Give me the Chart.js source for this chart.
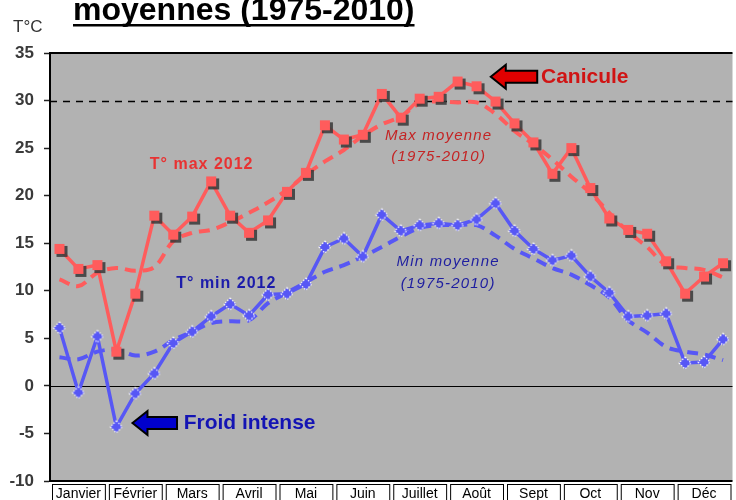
<!DOCTYPE html>
<html>
<head>
<meta charset="utf-8">
<script src="https://cdn.jsdelivr.net/npm/chart.js@4.4.0/dist/chart.umd.min.js"></script>
<style>
  html, body { margin: 0; padding: 0; width: 736px; height: 500px; overflow: hidden; background: #fff; }
  #wrap { position: relative; width: 742px; height: 515px; }
</style>
</head>
<body>
<div id="wrap"><canvas id="tempChart" width="742" height="515"></canvas></div>
<script>
// one label per month, three readings (decades) per month
const months = ["Janvier", "Février", "Mars", "Avril", "Mai", "Juin", "Juillet", "Août", "Sept", "Oct", "Nov", "Déc"];
const decades = ["1", "2", "3"];

// T° max 2012 (solid red)
const max2012 = [14.4, 12.3, 12.7, 3.6, 9.7, 17.9, 15.9, 17.8, 21.5, 17.9, 16.1, 17.4,
                 20.4, 22.4, 27.4, 25.9, 26.4, 30.7, 28.2, 30.2, 30.4, 32.0, 31.5, 29.9,
                 27.6, 25.6, 22.3, 25.0, 20.8, 17.6, 16.4, 16.0, 13.1, 9.7, 11.5, 12.9];
// Max moyenne 1975-2010 (dashed red)
const maxMoy = [11.2, 10.5, 11.9, 12.4, 12.1, 12.5, 15.2, 16.1, 16.4, 17.2, 18.2, 19.3,
                20.6, 22.2, 23.6, 24.8, 26.3, 27.5, 28.3, 29.7, 29.9, 29.8, 29.8, 28.6,
                26.8, 25.4, 23.8, 22.0, 20.3, 18.2, 16.2, 14.6, 12.7, 12.4, 12.2, 11.4];
// T° min 2012 (solid blue)
const min2012 = [6.1, -0.7, 5.2, -4.3, -0.8, 1.3, 4.5, 5.7, 7.3, 8.6, 7.4, 9.6,
                 9.7, 10.7, 14.6, 15.5, 13.6, 18.0, 16.3, 16.9, 17.1, 16.9, 17.5, 19.2,
                 16.3, 14.4, 13.2, 13.7, 11.5, 9.8, 7.3, 7.4, 7.6, 2.4, 2.5, 4.9];
// Min moyenne 1975-2010 (dashed blue)
const minMoy = [3.0, 2.8, 3.6, 3.8, 3.2, 3.6, 4.8, 5.7, 6.6, 6.8, 6.9, 8.7,
                9.8, 10.9, 12.0, 12.7, 13.6, 14.6, 15.7, 16.6, 16.9, 16.9, 16.9, 15.8,
                14.4, 13.4, 12.4, 11.7, 10.6, 9.3, 6.9, 5.6, 4.1, 3.6, 3.3, 2.7];

const yMin = -10, yMax = 35, yStep = 5;
const caniculeLevel = 30;

const RED = "#ff5c5c";
const BLUE = "#5757f5";

const labels = [];
months.forEach(m => decades.forEach(d => labels.push(m + " " + d)));

// square marker with a dark drop shadow
function squareMarker() {
  const c = document.createElement("canvas");
  c.width = c.height = 18;
  const g = c.getContext("2d");
  g.fillStyle = "rgba(55,55,55,0.85)";
  g.fillRect(6, 6, 11, 11);
  g.fillStyle = RED;
  g.fillRect(4, 4, 10, 10);
  return c;
}

// diamond marker with dotted white outline
function diamondMarker() {
  const c = document.createElement("canvas");
  c.width = c.height = 16;
  const g = c.getContext("2d");
  g.beginPath();
  g.moveTo(8, 2); g.lineTo(14, 8); g.lineTo(8, 14); g.lineTo(2, 8); g.closePath();
  g.fillStyle = BLUE;
  g.fill();
  g.setLineDash([1.5, 1.5]);
  g.lineWidth = 1.2;
  g.strokeStyle = "#fff";
  g.stroke();
  return c;
}

const sq = squareMarker();
const dm = diamondMarker();

// plot background, month boxes, reference lines
const backdrop = {
  id: "backdrop",
  beforeDraw(chart) {
    const { ctx, chartArea: a, scales: { x } } = chart;
    ctx.save();
    ctx.fillStyle = "#b2b2b2";
    ctx.fillRect(a.left, a.top, a.right - a.left, a.bottom - a.top);
    ctx.strokeStyle = "#000";
    ctx.lineWidth = 1;
    for (let m = 0; m < months.length; m++) {
      const x0 = x.getPixelForValue(m * 3 - 0.5) + 2.5;
      const x1 = x.getPixelForValue(m * 3 + 2.5) - 1.5;
      ctx.fillStyle = "#fff";
      ctx.fillRect(x0, a.bottom + 3, x1 - x0, 24);
      ctx.strokeRect(x0, a.bottom + 3.5, x1 - x0, 24);
    }
    ctx.restore();
  },
  beforeDatasetsDraw(chart) {
    const { ctx, chartArea: a, scales: { y } } = chart;
    ctx.save();
    ctx.strokeStyle = "#000";
    ctx.lineWidth = 1.2;
    const y0 = Math.round(y.getPixelForValue(0)) + 0.5;
    ctx.beginPath(); ctx.moveTo(a.left, y0); ctx.lineTo(a.right, y0); ctx.stroke();
    const y30 = Math.round(y.getPixelForValue(caniculeLevel)) + 0.5;
    ctx.setLineDash([7, 6]);
    ctx.lineWidth = 1.5;
    ctx.beginPath(); ctx.moveTo(a.left, y30); ctx.lineTo(a.right, y30); ctx.stroke();
    ctx.restore();
  },
  afterDraw(chart) {
    const { ctx, chartArea: a } = chart;
    ctx.save();
    ctx.strokeStyle = "#000";
    ctx.lineWidth = 2;
    ctx.beginPath();
    ctx.moveTo(a.left, a.bottom); ctx.lineTo(a.left, a.top); ctx.lineTo(a.right, a.top);
    ctx.moveTo(a.left, a.bottom); ctx.lineTo(a.right, a.bottom);
    ctx.stroke();
    ctx.restore();
  }
};

function arrow(ctx, tipX, tailX, yc, fill) {
  const headLen = 15, headH = 12, shaftH = 6;
  ctx.beginPath();
  ctx.moveTo(tipX, yc);
  ctx.lineTo(tipX + headLen, yc - headH);
  ctx.lineTo(tipX + headLen, yc - shaftH);
  ctx.lineTo(tailX, yc - shaftH);
  ctx.lineTo(tailX, yc + shaftH);
  ctx.lineTo(tipX + headLen, yc + shaftH);
  ctx.lineTo(tipX + headLen, yc + headH);
  ctx.closePath();
  ctx.fillStyle = fill;
  ctx.fill();
  ctx.lineWidth = 2;
  ctx.strokeStyle = "#000";
  ctx.stroke();
}

// texts placed in data units: [text, index, value, font, colour, align, spacing]
const notes = [
  ["T° max 2012", 7.5, 23.3, "bold 16px Arial", "#e83232", "center", "1px"],
  ["T° min 2012", 8.8, 10.8, "bold 16px Arial", "#1c1caa", "center", "1px"],
  ["Max moyenne", 20.0, 26.3, "italic 15px Arial", "#c42424", "center", "1.2px"],
  ["(1975-2010)", 20.0, 24.1, "italic 15px Arial", "#c42424", "center", "1.2px"],
  ["Min moyenne", 20.5, 13.05, "italic 15px Arial", "#1e1ea0", "center", "1.2px"],
  ["(1975-2010)", 20.5, 10.75, "italic 15px Arial", "#1e1ea0", "center", "1.2px"],
  ["Canicule", 25.4, 32.5, "bold 21px Arial", "#d01414", "left", "0px"],
  ["Froid intense", 6.55, -3.9, "bold 21px Arial", "#1414b4", "left", "0px"]
];

const annotations = {
  id: "annotations",
  afterDatasetsDraw(chart) {
    const { ctx, scales: { x, y } } = chart;
    ctx.save();
    arrow(ctx, x.getPixelForValue(22.75), x.getPixelForValue(25.2), y.getPixelForValue(32.5), "#e00000");
    arrow(ctx, x.getPixelForValue(3.85), x.getPixelForValue(6.2), y.getPixelForValue(-3.9), "#0000cc");
    ctx.textBaseline = "middle";
    for (const [t, i, v, font, col, align, sp] of notes) {
      ctx.font = font;
      ctx.fillStyle = col;
      ctx.textAlign = align;
      ctx.letterSpacing = sp;
      ctx.fillText(t, x.getPixelForValue(i), y.getPixelForValue(v));
    }
    // heading (cut at the top of the frame) and unit
    ctx.letterSpacing = "0px";
    ctx.textAlign = "left";
    ctx.textBaseline = "alphabetic";
    ctx.fillStyle = "#000";
    ctx.font = "bold 32px Arial";
    const title = "moyennes (1975-2010)";
    ctx.fillText(title, 73, 20);
    const w = ctx.measureText(title).width;
    ctx.fillRect(73, 24, w, 2.5);
    ctx.fillStyle = "#333";
    ctx.font = "17px Arial";
    ctx.fillText("T°C", 13, 32);
    ctx.restore();
  }
};

const chart = new Chart(document.getElementById("tempChart").getContext("2d"), {
  type: "line",
  data: {
    labels,
    datasets: [
      { label: "T° max 2012", data: max2012, borderColor: RED, borderWidth: 3.5, tension: 0,
        pointStyle: sq, pointRadius: 6, order: 0 },
      { label: "T° min 2012", data: min2012, borderColor: BLUE, borderWidth: 3.5, tension: 0,
        pointStyle: dm, pointRadius: 6, order: 0 },
      { label: "Max moyenne (1975-2010)", data: maxMoy, borderColor: RED, borderWidth: 4,
        borderDash: [11, 7], tension: 0.35, pointRadius: 0, order: 1 },
      { label: "Min moyenne (1975-2010)", data: minMoy, borderColor: BLUE, borderWidth: 4,
        borderDash: [11, 7], tension: 0.35, pointRadius: 0, order: 1 }
    ]
  },
  options: {
    responsive: false,
    animation: false,
    layout: { padding: { top: 53, right: 1, left: 0, bottom: 0 } },
    plugins: { legend: { display: false }, tooltip: { enabled: false }, title: { display: false } },
    scales: {
      x: {
        type: "category",
        offset: true,
        grid: { display: false, drawTicks: false },
        border: { display: false },
        ticks: {
          autoSkip: false, maxRotation: 0, padding: 5, color: "#000",
          font: { family: "Arial", size: 14 },
          callback: (v, i) => (i % 3 === 1 ? months[(i - 1) / 3] : "")
        },
        afterFit: s => { s.height = 34; }
      },
      y: {
        min: yMin, max: yMax,
        ticks: { stepSize: yStep, padding: 10, color: "#3a3a3a", font: { family: "Arial", size: 17, weight: "bold" } },
        grid: { drawOnChartArea: false, tickLength: 6, tickColor: "#222", tickWidth: 1.5 },
        border: { display: true, color: "#000", width: 2 },
        afterFit: s => { s.width = 50; }
      }
    }
  },
  plugins: [backdrop, annotations]
});
</script>
</body>
</html>
